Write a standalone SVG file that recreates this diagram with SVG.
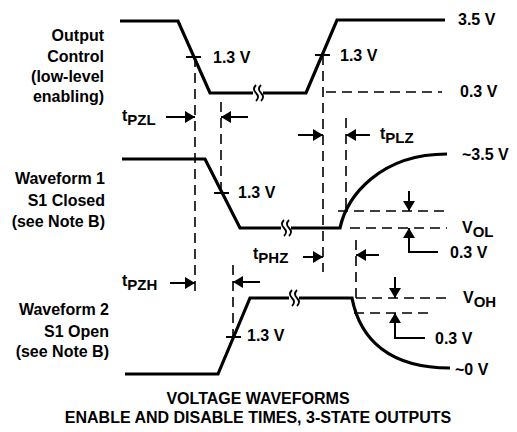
<svg xmlns="http://www.w3.org/2000/svg" width="517" height="432" viewBox="0 0 517 432">
<style>
text{font-family:"Liberation Sans",Arial,sans-serif;font-weight:bold;font-size:16px;fill:#000}
.r{text-anchor:end}
.m{text-anchor:middle}
.wave{fill:none;stroke:#000;stroke-width:3.2;stroke-linejoin:miter}
.dash{fill:none;stroke:#000;stroke-width:1.6;stroke-dasharray:10 6}
.tick{stroke:#000;stroke-width:2}
.arr{fill:none;stroke:#000;stroke-width:2;marker-end:url(#ah)}
.brk{fill:none;stroke:#000;stroke-width:1.8}
.sub{font-size:15px}
</style>
<defs>
<marker id="ah" viewBox="0 0 10 12" refX="10" refY="6" markerWidth="10" markerHeight="12" markerUnits="userSpaceOnUse" orient="auto"><path d="M0,0 L10,6 L0,12 z" fill="#000"/></marker>
</defs>
<rect width="517" height="432" fill="#fff"/>

<g id="output-control">
<text class="r" x="104" y="41">Output</text>
<text class="r" x="104" y="62">Control</text>
<text class="r" x="104" y="82">(low-level</text>
<text class="r" x="104" y="102">enabling)</text>
<path class="wave" d="M120,21 L178,21 L210,93 L253,93 M263,93 L306,93 L337,20 L445,20"/>
<path class="brk" d="M256,85 q-4,4 0,8 q4,4 0,8 M261,85 q-4,4 0,8 q4,4 0,8"/>
<line class="tick" x1="186" y1="57" x2="201" y2="57"/>
<line class="tick" x1="315" y1="55" x2="330" y2="55"/>
<text x="213" y="63">1.3 V</text>
<text x="340" y="61">1.3 V</text>
<text x="458" y="25">3.5 V</text>
<text x="460" y="97">0.3 V</text>
<line class="dash" x1="326" y1="92" x2="442" y2="92"/>
</g>

<g id="waveform1">
<text class="r" x="105" y="184">Waveform 1</text>
<text class="r" x="105" y="206">S1 Closed</text>
<text class="r" x="105" y="227">(see Note B)</text>
<path class="wave" d="M122,159 L205,159 L240,228 L281,228 M291,228 L340,228 C347,196 380,154 447,154"/>
<path class="brk" d="M284,220 q-4,4 0,8 q4,4 0,8 M289,220 q-4,4 0,8 q4,4 0,8"/>
<line class="tick" x1="214" y1="193" x2="229" y2="193"/>
<text x="238" y="198">1.3 V</text>
<text x="462" y="160">~3.5 V</text>
<line class="dash" x1="338" y1="211" x2="447" y2="211"/>
<line class="dash" x1="350" y1="228" x2="447" y2="228"/>
<text x="462" y="233">V<tspan class="sub" dy="4">OL</tspan></text>
<line class="arr" x1="409" y1="191" x2="409" y2="211"/>
<path class="arr" d="M438,252 L409,252 L409,228"/>
<text x="450" y="258">0.3 V</text>
</g>

<g id="waveform2">
<text class="r" x="109" y="315">Waveform 2</text>
<text class="r" x="109" y="337">S1 Open</text>
<text class="r" x="109" y="357">(see Note B)</text>
<path class="wave" d="M125,374 L218,374 L250,298 L289,298 M299,298 L352,298 C360,340 390,368 450,368"/>
<path class="brk" d="M292,290 q-4,4 0,8 q4,4 0,8 M297,290 q-4,4 0,8 q4,4 0,8"/>
<line class="tick" x1="226" y1="337" x2="241" y2="337"/>
<text x="247" y="341">1.3 V</text>
<text x="455" y="375">~0 V</text>
<line class="dash" x1="356" y1="298" x2="448" y2="298"/>
<line class="dash" x1="354" y1="313" x2="433" y2="313"/>
<text x="463" y="303">V<tspan class="sub" dy="4">OH</tspan></text>
<line class="arr" x1="395" y1="277" x2="395" y2="298"/>
<path class="arr" d="M425,338 L395,338 L395,313"/>
<text x="435" y="344">0.3 V</text>
</g>

<g id="connectors">
<line class="dash" x1="195" y1="57" x2="195" y2="295"/>
<line class="dash" x1="221" y1="102" x2="221" y2="193"/>
<line class="dash" x1="323" y1="55" x2="323" y2="272"/>
<line class="dash" x1="346" y1="118" x2="346" y2="211"/>
<line class="dash" x1="233" y1="265" x2="233" y2="337"/>
<line class="dash" x1="356" y1="240" x2="356" y2="298"/>
<line class="arr" x1="166" y1="117" x2="195" y2="117"/>
<line class="arr" x1="248" y1="117" x2="221" y2="117"/>
<line class="arr" x1="298" y1="135" x2="323" y2="135"/>
<line class="arr" x1="370" y1="135" x2="346" y2="135"/>
<line class="arr" x1="303" y1="257" x2="323" y2="257"/>
<line class="arr" x1="379" y1="255" x2="356" y2="255"/>
<line class="arr" x1="170" y1="283" x2="195" y2="283"/>
<line class="arr" x1="260" y1="282" x2="233" y2="282"/>
</g>

<g id="timing-labels">
<text x="122" y="121">t<tspan class="sub" dy="4">PZL</tspan></text>
<text x="380" y="139">t<tspan class="sub" dy="4">PLZ</tspan></text>
<text x="253" y="259">t<tspan class="sub" dy="4">PHZ</tspan></text>
<text x="122" y="286">t<tspan class="sub" dy="4">PZH</tspan></text>
</g>

<g id="title">
<text class="m" x="258" y="404">VOLTAGE WAVEFORMS</text>
<text class="m" x="258" y="423">ENABLE AND DISABLE TIMES, 3-STATE OUTPUTS</text>
</g>
</svg>
